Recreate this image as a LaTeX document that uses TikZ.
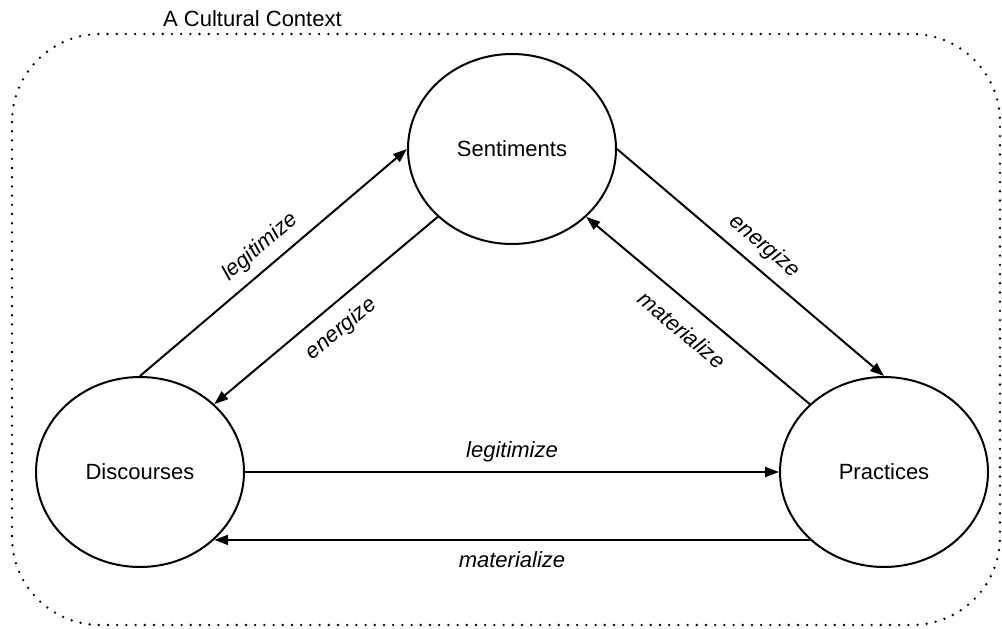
\documentclass[tikz,border=0pt]{standalone}
\usepackage{fontspec}
\setmainfont{Liberation Sans}
\usetikzlibrary{arrows.meta,shapes.geometric}
\begin{document}
\begin{tikzpicture}[x=1pt,y=-1pt,
  concept/.style={ellipse, draw, line width=2pt, minimum width=208pt, minimum height=190pt, inner sep=0pt, font=\fontsize{22}{26}\selectfont},
  rel/.style={line width=2pt, -{Triangle[length=14pt,width=10pt]}},
  lbl/.style={font=\fontsize{22}{26}\selectfont\itshape, inner sep=0pt, sloped},
  context/.style={line width=2.6pt, dash pattern=on 0pt off 9.2pt, line cap=round, rounded corners=88pt}]
\useasboundingbox (0,0) rectangle (1002,629);
\draw[context] (12,34) rectangle (1000,625);
\node[anchor=base west, inner sep=0pt, font=\fontsize{22}{26}\selectfont] (title) at (163,26) {A Cultural Context};
\node[concept] (S) at (512,149) {Sentiments};
\node[concept] (D) at (140,472) {Discourses};
\node[concept] (P) at (884,472) {Practices};
\draw[rel] (D.north) -- node[lbl, above=9pt]{legitimize} (S.west);
\draw[rel] (S.south west) -- node[lbl, below=13pt]{energize} (D.north east);
\draw[rel] (S.east) -- node[lbl, above=10pt]{energize} (P.north);
\draw[rel] (P.north west) -- node[lbl, below=16pt]{materialize} (S.south east);
\draw[rel] (D.east) -- node[lbl, above=8.5pt]{legitimize} (P.west);
\draw[rel] (P.south west) -- node[lbl, below=11pt]{materialize} (D.south east);
\end{tikzpicture}
\end{document}
